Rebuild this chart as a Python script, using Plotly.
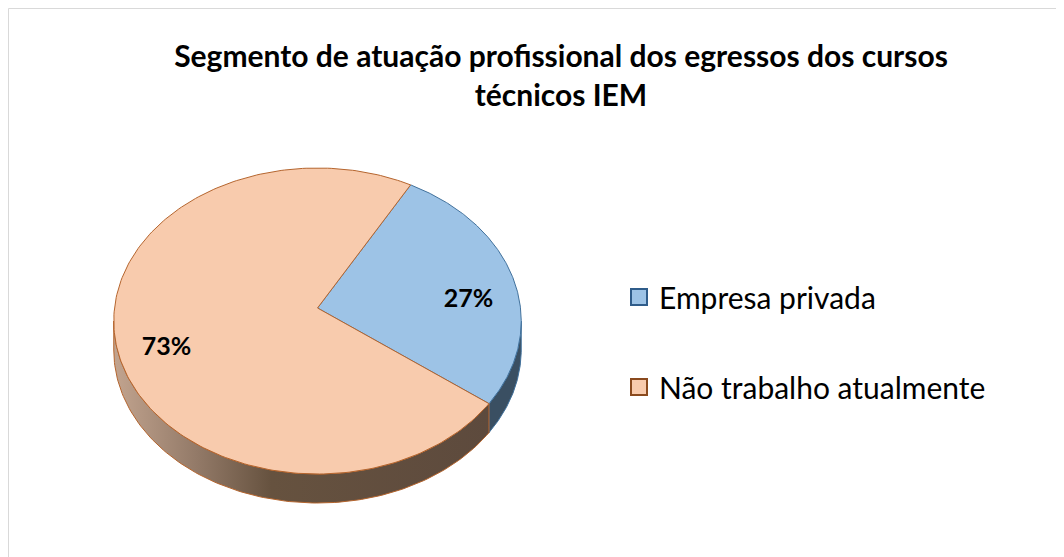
import numpy as np
import plotly.graph_objects as go

# ---------------- data ----------------
categories = ["Empresa privada", "Não trabalho atualmente"]
values = [27, 73]
title_text = "Segmento de atuação profissional dos egressos dos cursos<br>técnicos IEM"

# ---------------- styles ----------------
top_colors = ["#9DC3E6", "#F8CBAD"]
edge_colors = ["#41719C", "#B5652E"]
legend_borders = ["#2F5C8A", "#8A4A1E"]
side_scales = [
    [[0, "#3A4F62"], [1, "#3A4F62"]],
    [[0, "#C2A48F"], [0.22, "#937A68"], [0.42, "#66523F"], [1, "#5D4A3D"]],
]
FONT = "Lato"

# page offset (browser body margin) so that axis units equal screen pixels
OFF = 8
W, H = 1064, 557

# ---------------- geometry (layout, in screen-pixel axis units) ----------------
CX, CY = 317.5, 308.0      # projected centre of the disk
A, B = 203.0, 151.9        # horizontal / vertical radii
PERSP = 0.085              # perspective factor
DEPTH = 29.0               # thickness of the 3D pie
START = 29.5               # start angle (deg, clockwise from 12 o'clock)
SIL = np.degrees(np.arccos(-PERSP))  # silhouette angle of the rim
VIS0, VIS1 = SIL, 360 - SIL


def proj(t_deg, dy=0.0):
    t = np.radians(t_deg)
    u, v = np.sin(t), np.cos(t)
    s = 1.0 / (1.0 + PERSP * v)
    return CX + A * u * s, CY - B * v * s + dy


total = sum(values)
bounds = []
acc = 0
for v in values:
    a0 = START + 360 * acc / total
    acc += v
    a1 = START + 360 * acc / total
    bounds.append((a0, a1))

fig = go.Figure()

# side walls
for i, (a0, a1) in enumerate(bounds):
    segs = []
    for off in (0, 360, -360):
        lo, hi = max(a0 + off, VIS0), min(a1 + off, VIS1)
        if hi > lo:
            segs.append((lo, hi))
    for lo, hi in segs:
        ts = np.linspace(lo, hi, 120)
        xt, yt = proj(ts)
        xb, yb = proj(ts[::-1], DEPTH)
        xs = np.concatenate([xt, xb, xt[:1]])
        ys = np.concatenate([yt, yb, yt[:1]])
        fig.add_trace(go.Scatter(
            x=xs, y=ys, mode="lines", fill="toself",
            fillgradient=dict(type="horizontal", colorscale=side_scales[i]),
            line=dict(color=edge_colors[i], width=1),
            showlegend=False, hoverinfo="skip"))

# top faces
for i, (a0, a1) in enumerate(bounds):
    ts = np.linspace(a0, a1, 240)
    xa, ya = proj(ts)
    xs = np.concatenate([[CX], xa, [CX]])
    ys = np.concatenate([[CY], ya, [CY]])
    fig.add_trace(go.Scatter(
        x=xs, y=ys, mode="lines", fill="toself", fillcolor=top_colors[i],
        line=dict(color=edge_colors[i], width=1),
        name=categories[i], showlegend=False, hoverinfo="skip"))

# data labels
for i, (a0, a1) in enumerate(bounds):
    mid = (a0 + a1) / 2
    t = np.radians(mid)
    lx = CX + 0.76 * A * np.sin(t)
    ly = CY - 0.76 * B * np.cos(t) + 17
    fig.add_trace(go.Scatter(
        x=[lx], y=[ly], mode="text",
        text=[f"{round(100 * values[i] / total)}%"],
        textfont=dict(family=FONT, size=25, color="black", weight="bold"),
        showlegend=False, hoverinfo="skip"))

# legend entries
for i, cat in enumerate(categories):
    fig.add_trace(go.Scatter(
        x=[None], y=[None], mode="markers", name=cat, legendgroup=cat,
        marker=dict(symbol="square", size=17, color=top_colors[i],
                    line=dict(color=legend_borders[i], width=2))))

fig.update_layout(
    width=W, height=H,
    margin=dict(l=0, r=0, t=0, b=0),
    paper_bgcolor="white", plot_bgcolor="white",
    xaxis=dict(range=[OFF, W + OFF], visible=False, fixedrange=True),
    yaxis=dict(range=[H + OFF, OFF], visible=False, fixedrange=True),
    title=dict(text=title_text, x=(561 - OFF) / W, xanchor="center",
               y=1 - (67 - OFF) / H, yanchor="top",
               font=dict(family=FONT, size=30, color="black", weight="bold")),
    legend=dict(x=(619 - OFF) / W, y=1 - (271 - OFF) / H,
                xanchor="left", yanchor="top",
                font=dict(family=FONT, size=30, color="black"),
                tracegroupgap=48, bgcolor="rgba(0,0,0,0)"),
    shapes=[dict(type="rect", xref="x", yref="y", x0=8.5, x1=1200, y0=8.5, y1=620,
                 line=dict(color="#D9D9D9", width=1), layer="below")],
)

fig.write_html("out.html")
